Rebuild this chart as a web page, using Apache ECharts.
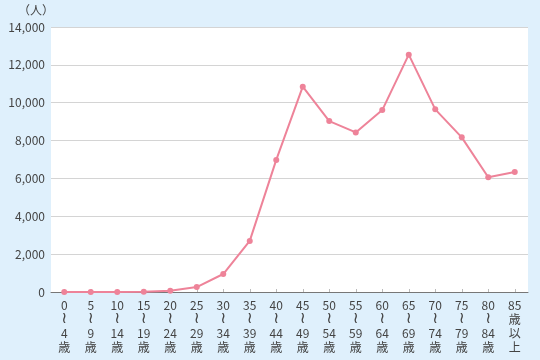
<!DOCTYPE html>
<html><head><meta charset="utf-8">
<script src="https://cdn.jsdelivr.net/npm/echarts@6/dist/echarts.min.js"></script>
<style>html,body{margin:0;padding:0;background:#dff0fc;}#c{width:540px;height:360px;}</style>
</head><body><div id="c"></div>
<script>
const categories = ['0〜4歳','5〜9歳','10〜14歳','15〜19歳','20〜24歳','25〜29歳','30〜34歳','35〜39歳','40〜44歳','45〜49歳','50〜54歳','55〜59歳','60〜64歳','65〜69歳','70〜74歳','75〜79歳','80〜84歳','85歳以上'];
const values = [0, 2, 5, 10, 60, 260, 950, 2700, 6980, 10850, 9030, 8430, 9610, 12540, 9650, 8170, 6060, 6340];
const yMin = 0, yMax = 14000, yInterval = 2000;
const unitLabel = '（人）';

const chart = echarts.init(document.getElementById('c'));
const font = '"Noto Sans CJK JP", "Noto Sans", sans-serif';
function stackLabel(s) {
  if (s.indexOf('〜') >= 0) {
    const [a, b] = s.split('〜');
    return a + '\n{w|≀}\n' + b.replace('歳', '') + '\n歳';
  }
  return s.replace('歳', '').replace('以上', '') + '\n歳\n以\n上';
}
chart.setOption({
  backgroundColor: '#dff0fc',
  animation: false,
  grid: { left: 51, right: 12, top: 27, bottom: 68, show: true, backgroundColor: '#ffffff', borderWidth: 0 },
  graphic: [{ type: 'text', left: 18, top: 4, style: { text: unitLabel, font: '12px ' + font, fill: '#444' } }],
  xAxis: {
    type: 'category', data: categories, boundaryGap: true,
    axisLine: { lineStyle: { color: '#777', width: 1 } },
    axisTick: { show: true, inside: true, length: 3, alignWithLabel: true, lineStyle: { color: '#bbb' } },
    axisLabel: { interval: 0, color: '#444', fontSize: 12, lineHeight: 14, fontFamily: font, margin: 6,
      formatter: stackLabel,
      rich: { w: { fontSize: 16, lineHeight: 14, fontFamily: '"DejaVu Sans", sans-serif', color: '#444' } } }
  },
  yAxis: {
    type: 'value', min: yMin, max: yMax, interval: yInterval,
    axisLine: { show: false }, axisTick: { show: false },
    splitLine: { lineStyle: { color: '#d4d4d4', width: 1 } },
    axisLabel: { color: '#444', fontSize: 12, fontFamily: font, margin: 6,
      formatter: v => v.toLocaleString('en-US') }
  },
  series: [{
    type: 'line', data: values, symbol: 'circle', symbolSize: 6,
    lineStyle: { color: '#ee8399', width: 2 }, itemStyle: { color: '#ee8399' }
  }]
});
</script></body></html>
